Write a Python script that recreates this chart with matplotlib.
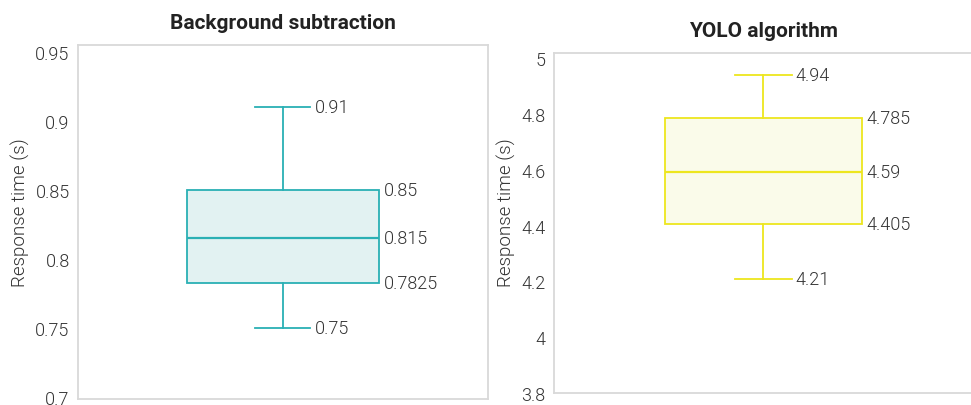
import matplotlib
matplotlib.use("Agg")
import matplotlib.pyplot as plt
from matplotlib.ticker import FuncFormatter, MultipleLocator

plt.rcParams["font.family"] = ["Roboto", "DejaVu Sans"]

titles = ["Background subtraction", "YOLO algorithm"]
mins = [0.75, 4.21]
q1s = [0.7825, 4.405]
medians = [0.815, 4.59]
q3s = [0.85, 4.785]
maxs = [0.91, 4.94]
edge_colors = ["#2AB0B4", "#EDE61E"]
fill_colors = ["#E2F2F2", "#FAFBEA"]
ylims = [(0.6985, 0.955), (3.8, 5.018)]
ysteps = [0.05, 0.2]
positions = [[0.0803, 0.0148, 0.4222, 0.8719], [0.5705, 0.0296, 0.4315, 0.8374]]
label_y = [0.528, 0.532]

fig = plt.figure(figsize=(9.71, 4.06), dpi=100)
text_color = "#333333"
light = 300

for i in range(2):
    ax = fig.add_axes(positions[i])
    stats = [{
        "whislo": mins[i], "q1": q1s[i], "med": medians[i],
        "q3": q3s[i], "whishi": maxs[i], "fliers": [],
    }]
    ec = edge_colors[i]
    ax.bxp(
        stats, positions=[0], widths=0.47, capwidths=0.134,
        showfliers=False, patch_artist=True,
        boxprops=dict(facecolor=fill_colors[i], edgecolor=ec, linewidth=1.3),
        medianprops=dict(color=ec, linewidth=1.6),
        whiskerprops=dict(color=ec, linewidth=1.3),
        capprops=dict(color=ec, linewidth=1.3),
    )
    ax.set_xlim(-0.5, 0.5)
    ax.set_ylim(*ylims[i])
    ax.yaxis.set_major_locator(MultipleLocator(ysteps[i]))
    ax.yaxis.set_major_formatter(FuncFormatter(lambda v, p: "%g" % round(v, 4)))
    ax.set_xticks([])
    ax.tick_params(axis="y", length=0, labelsize=13, labelcolor=text_color, pad=6)
    for lab in ax.get_yticklabels():
        lab.set_fontweight(light)
    for s in ax.spines.values():
        s.set_color("#D9D9D9")
        s.set_linewidth(1.3)
    ax.set_ylabel("Response time (s)", fontsize=13.5, fontweight=light,
                  color=text_color, labelpad=4)
    ax.yaxis.label.set_y(label_y[i])
    ax.set_title(titles[i], fontsize=15, fontweight="bold", color="#222222", pad=12)

    # value labels
    for v in (mins[i], maxs[i]):
        ax.annotate(("%g" % v), xy=(0.067, v), xytext=(3, 0), textcoords="offset points",
                    ha="left", va="center", fontsize=13, fontweight=light, color=text_color)
    for v in (q1s[i], medians[i], q3s[i]):
        ax.annotate(("%g" % v), xy=(0.235, v), xytext=(3, 0), textcoords="offset points",
                    ha="left", va="center", fontsize=13, fontweight=light, color=text_color)

fig.savefig("out.png", dpi=100)
